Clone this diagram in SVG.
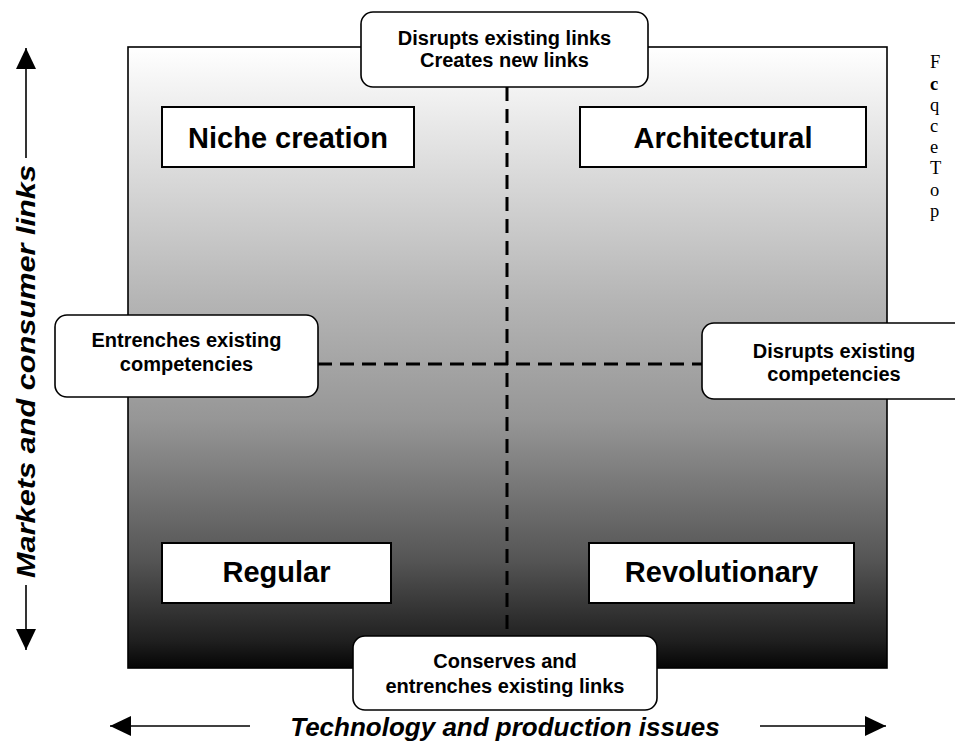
<svg xmlns="http://www.w3.org/2000/svg" width="955" height="743" viewBox="0 0 955 743">
<defs>
<linearGradient id="bg" x1="0" y1="0" x2="0" y2="1">
<stop offset="0" stop-color="#ffffff"/>
<stop offset="0.407" stop-color="#b5b5b5"/>
<stop offset="0.6" stop-color="#969696"/>
<stop offset="0.826" stop-color="#555555"/>
<stop offset="0.955" stop-color="#202020"/>
<stop offset="1" stop-color="#050505"/>
</linearGradient>
<marker id="ah" markerWidth="21" markerHeight="20" refX="21" refY="10" orient="auto" markerUnits="userSpaceOnUse">
<path d="M0,0 L21,10 L0,20 Z" fill="#000"/>
</marker>
</defs>
<style>
.q{fill:#fff;stroke:#000;stroke-width:2}
.r{fill:#fff;stroke:#000;stroke-width:1.6}
.ql{font-family:"Liberation Sans",Arial,sans-serif;font-weight:bold;font-size:29px;text-anchor:middle;fill:#000}
.bl{font-family:"Liberation Sans",Arial,sans-serif;font-weight:bold;font-size:20px;text-anchor:middle;fill:#000}
.ax{font-family:"Liberation Sans",Arial,sans-serif;font-weight:bold;font-style:italic;font-size:26px;text-anchor:middle;fill:#000}
.dash{stroke:#000;stroke-width:3;stroke-dasharray:14 8;fill:none}
.ln{stroke:#000;stroke-width:1.6;fill:none}
.side{font-family:"Liberation Serif","Times New Roman",serif;font-size:18.5px;fill:#000}
</style>
<rect x="128" y="47" width="759" height="621" fill="url(#bg)" stroke="#000" stroke-width="1.6"/>
<g id="connectors">
<line class="dash" x1="507" y1="87" x2="507" y2="636"/>
<line class="dash" x1="318" y1="364" x2="702" y2="364"/>
</g>
<g id="axes">
<line class="ln" x1="26" y1="158" x2="26" y2="48" marker-end="url(#ah)"/>
<line class="ln" x1="26" y1="585" x2="26" y2="650" marker-end="url(#ah)"/>
<text class="ax" transform="translate(35,371.5) rotate(-90)" textLength="413" lengthAdjust="spacingAndGlyphs">Markets and consumer links</text>
<line class="ln" x1="250" y1="726" x2="110" y2="726" marker-end="url(#ah)"/>
<line class="ln" x1="760" y1="726" x2="886" y2="726" marker-end="url(#ah)"/>
<text class="ax" x="505" y="736">Technology and production issues</text>
</g>
<g id="niche">
<rect class="q" x="162" y="107" width="252" height="60"/>
<text class="ql" x="288" y="148">Niche creation</text>
</g>
<g id="architectural">
<rect class="q" x="580" y="107" width="286" height="60"/>
<text class="ql" x="723" y="148">Architectural</text>
</g>
<g id="regular">
<rect class="q" x="162" y="543" width="229" height="60"/>
<text class="ql" x="276.5" y="582">Regular</text>
</g>
<g id="revolutionary">
<rect class="q" x="589" y="543" width="265" height="60"/>
<text class="ql" x="721.5" y="582">Revolutionary</text>
</g>
<g id="top">
<rect class="r" x="361" y="12" width="287" height="75" rx="12"/>
<text class="bl" x="504.5" y="45">Disrupts existing links</text>
<text class="bl" x="504.5" y="67">Creates new links</text>
</g>
<g id="left">
<rect class="r" x="55" y="315" width="263" height="82" rx="12"/>
<text class="bl" x="186.5" y="347">Entrenches existing</text>
<text class="bl" x="186.5" y="371">competencies</text>
</g>
<g id="right">
<rect class="r" x="702" y="323" width="270" height="76" rx="12"/>
<text class="bl" x="834" y="358">Disrupts existing</text>
<text class="bl" x="834" y="381">competencies</text>
</g>
<g id="bottom">
<rect class="r" x="353" y="636" width="304" height="74" rx="12"/>
<text class="bl" x="505" y="668">Conserves and</text>
<text class="bl" x="505" y="693">entrenches existing links</text>
</g>
<g id="sidetext">
<text class="side" x="930" y="68">F</text>
<text class="side" x="930" y="90" font-weight="bold">c</text>
<text class="side" x="930" y="111">q</text>
<text class="side" x="930" y="132">c</text>
<text class="side" x="930" y="153">e</text>
<text class="side" x="930" y="174">T</text>
<text class="side" x="930" y="196">o</text>
<text class="side" x="930" y="217">p</text>
</g>
</svg>
